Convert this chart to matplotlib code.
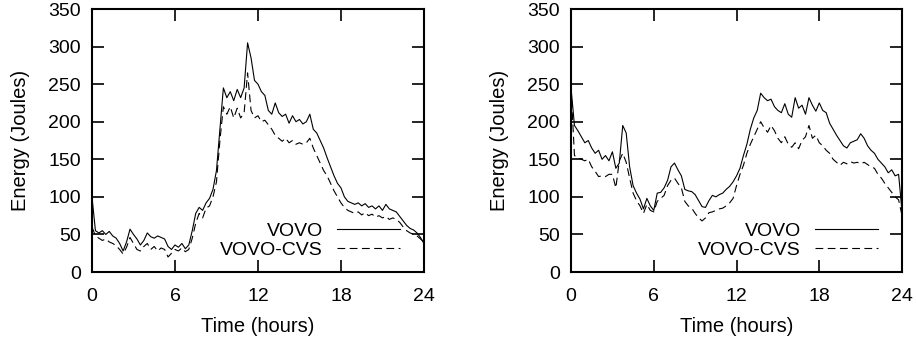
import numpy as np
import matplotlib.pyplot as plt

plt.rcParams['font.family'] = ['Liberation Sans', 'DejaVu Sans']

hours = np.arange(0, 24.01, 0.25)

# left panel
left_vovo = [100, 55, 52, 55, 50, 54, 48, 45, 38, 28, 40, 57, 50, 44, 36, 42,
             52, 47, 45, 48, 46, 44, 34, 30, 36, 33, 38, 31, 36, 55, 78, 86,
             82, 92, 98, 110, 135, 190, 245, 232, 240, 228, 243, 232, 245, 305, 285, 255,
             250, 240, 235, 215, 210, 225, 212, 207, 210, 198, 208, 200, 203, 197, 200, 210,
             190, 185, 175, 165, 152, 140, 128, 118, 112, 100, 94, 92, 90, 92, 88, 91,
             86, 88, 84, 88, 82, 90, 84, 82, 80, 74, 68, 62, 58, 56, 52, 46, 38]
left_cvs = [60, 48, 45, 42, 44, 40, 38, 35, 30, 24, 33, 46, 38, 30, 28, 34,
            38, 30, 34, 28, 32, 30, 20, 25, 30, 28, 32, 27, 30, 45, 65, 78,
            72, 85, 88, 100, 120, 175, 220, 210, 220, 205, 218, 205, 212, 265, 215, 205,
            208, 200, 202, 196, 190, 182, 178, 174, 178, 172, 175, 170, 172, 170, 172, 178,
            165, 155, 145, 135, 128, 118, 108, 100, 92, 86, 82, 80, 78, 80, 76, 79,
            75, 77, 73, 75, 72, 74, 70, 72, 70, 66, 60, 55, 52, 50, 48, 44, 40]

# right panel
right_vovo = [245, 195, 188, 180, 172, 175, 165, 158, 162, 150, 155, 148, 160, 138, 145, 195,
              185, 140, 115, 105, 97, 84, 98, 88, 82, 105, 106, 112, 122, 140, 145, 136,
              128, 110, 108, 107, 103, 95, 87, 86, 95, 102, 100, 103, 105, 110, 114, 120,
              128, 138, 155, 170, 190, 205, 215, 238, 232, 228, 230, 220, 215, 212, 224, 210,
              206, 232, 218, 222, 210, 232, 222, 214, 225, 215, 212, 198, 190, 182, 175, 168,
              165, 172, 174, 176, 184, 178, 168, 162, 158, 150, 145, 140, 132, 136, 128, 130, 80]
right_cvs = [245, 155, 152, 150, 148, 150, 140, 134, 127, 128, 127, 130, 130, 112, 148, 158,
             146, 125, 105, 95, 88, 78, 90, 82, 80, 94, 98, 102, 115, 122, 125, 118,
             112, 94, 88, 85, 78, 72, 68, 72, 79, 80, 82, 84, 85, 88, 92, 98,
             115, 130, 142, 158, 170, 180, 190, 200, 192, 186, 195, 188, 178, 172, 180, 170,
             166, 172, 164, 175, 180, 195, 178, 182, 172, 168, 162, 158, 150, 146, 142, 146,
             144, 147, 145, 146, 144, 146, 143, 140, 138, 130, 125, 118, 112, 106, 100, 96, 75]

fig = plt.figure(figsize=(9.17, 3.41), dpi=100)
ax1 = fig.add_axes([0.1003, 0.2023, 0.362, 0.7713])
ax2 = fig.add_axes([0.6227, 0.2023, 0.361, 0.7713])

for ax, vovo, cvs in [(ax1, left_vovo, left_cvs), (ax2, right_vovo, right_cvs)]:
    ax.plot(hours, vovo, color='black', lw=0.8, label='VOVO')
    ax.plot(hours, cvs, color='black', lw=0.8, ls=(0, (7, 4)), label='VOVO-CVS')
    ax.set_xlim(0, 24)
    ax.set_ylim(0, 350)
    ax.set_xticks([0, 6, 12, 18, 24])
    ax.set_yticks(range(0, 351, 50))
    ax.tick_params(direction='in', length=8.5, width=1.2, top=True, right=True,
                   labelsize=14)
    ax.tick_params(axis='x', pad=11.5)
    ax.tick_params(axis='y', pad=8)
    for s in ax.spines.values():
        s.set_linewidth(1.5)
    ax.set_xlabel('Time (hours)', fontsize=14.5, labelpad=8.5)
    ax.set_ylabel('Energy (Joules)', fontsize=14.5, labelpad=13)
    ax.legend(loc='lower right', frameon=False, markerfirst=False, fontsize=14,
              handlelength=3.25, handletextpad=0.72, labelspacing=0.05,
              borderpad=0, borderaxespad=0, bbox_to_anchor=(0.928, 0.05))

fig.savefig('out.png', dpi=100)
